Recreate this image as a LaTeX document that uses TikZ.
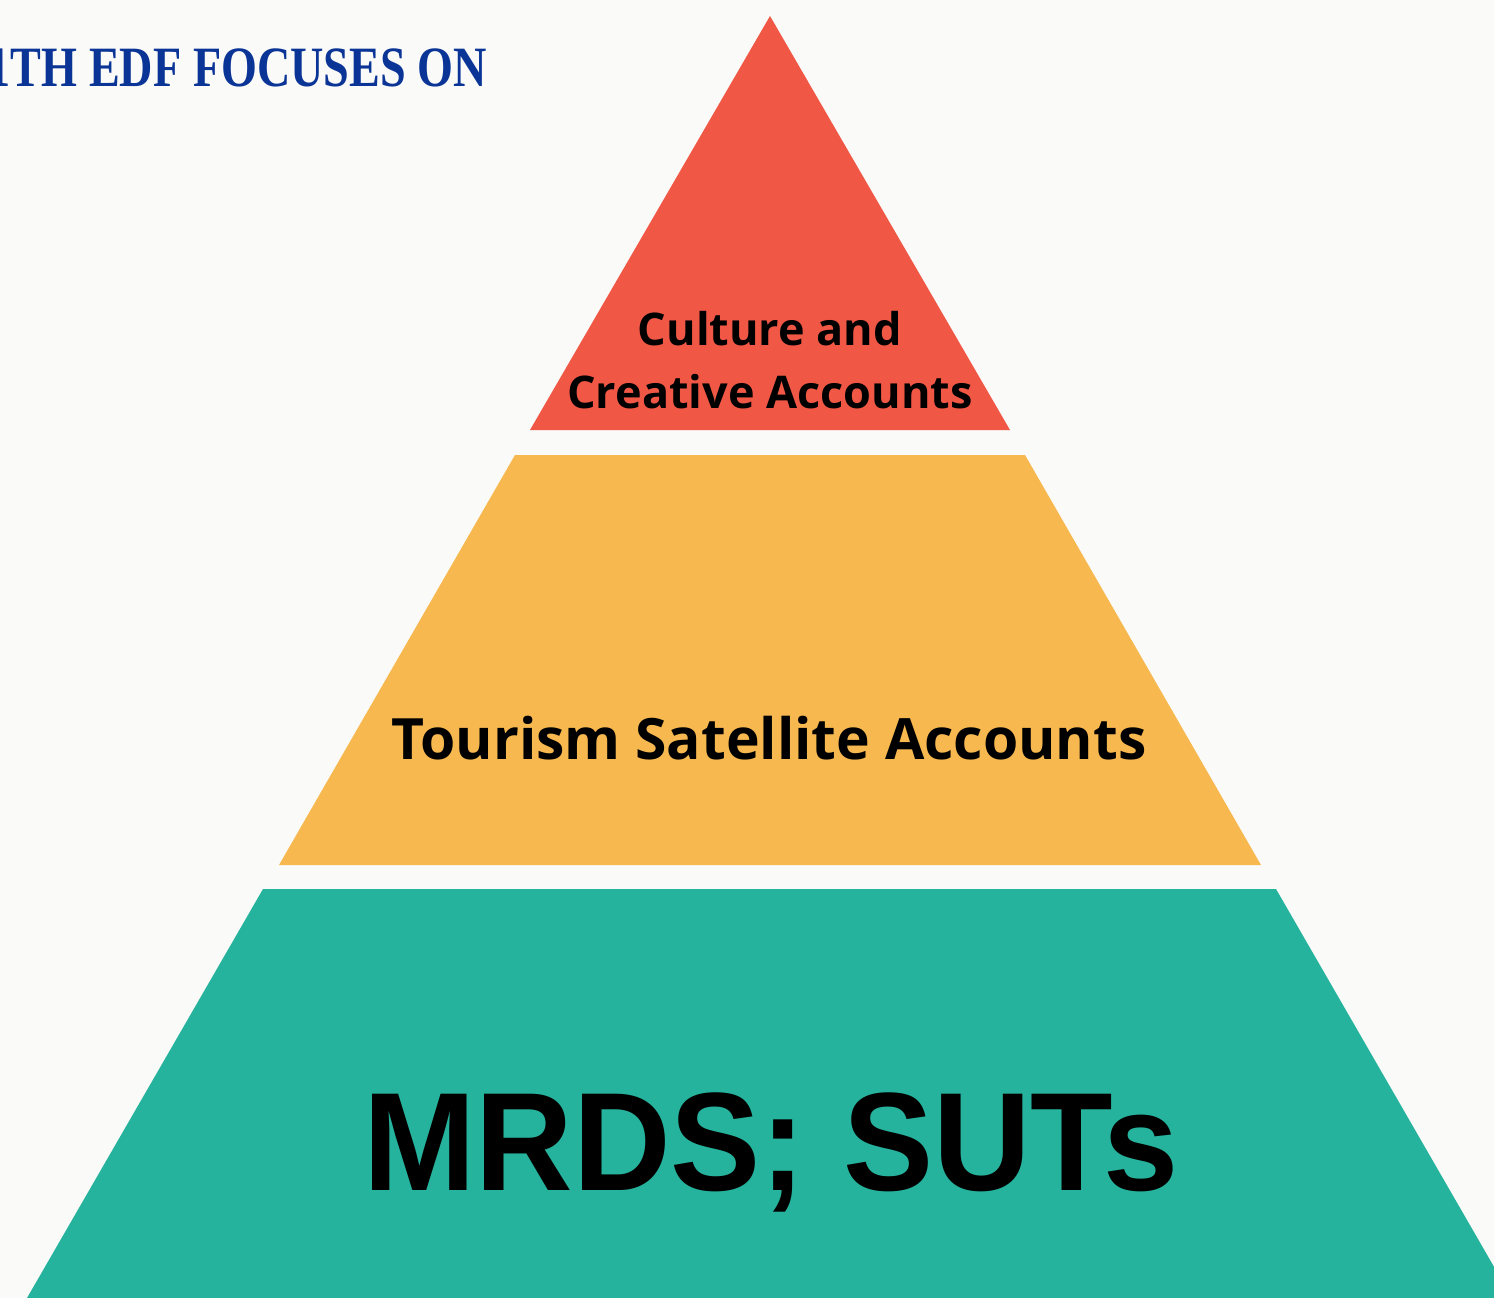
\documentclass[tikz,border=0pt]{standalone}
\usepackage{fontspec}
\setmainfont{Liberation Serif}
\newfontfamily\labfont{Open Sans}
\newfontfamily\bigfont{Liberation Sans}
\definecolor{bgc}{HTML}{FAFAF8}
\definecolor{redc}{HTML}{F05745}
\definecolor{orangec}{HTML}{F7B84F}
\definecolor{tealc}{HTML}{26B39E}
\definecolor{titlec}{HTML}{0A3597}
\tikzset{
  layer/.style={draw=none},
  lab/.style={inner sep=0pt, text=black, align=center},
}
\begin{document}
\begin{tikzpicture}[x=1pt,y=-1pt]
\useasboundingbox (0,0) rectangle (1494,1298);
\clip (0,0) rectangle (1494,1298);
\fill[bgc] (0,0) rectangle (1494,1298);
% layers
\fill[redc, layer] (770,16) -- (1010,430) -- (530,430) -- cycle;
\fill[orangec, layer] (515,455) -- (1025,455) -- (1261,865) -- (279,865) -- cycle;
\fill[tealc, layer] (263,889) -- (1276,889) -- (1512,1298) -- (27,1298) -- cycle;
% labels
\node[lab, anchor=base, font=\labfont\bfseries\fontsize{45}{63}\selectfont] (top) at (770,408) {Culture and\\Creative Accounts};
\node[lab, anchor=base, font=\labfont\bfseries\fontsize{57}{57}\selectfont] (mid) at (769,759) {Tourism Satellite Accounts};
\node[lab, anchor=base, font=\bigfont\bfseries\fontsize{140}{140}\selectfont] (bot) at (771,1190) {\scalebox{0.965}[1]{MRDS; SUTs}};
% title
\node[inner sep=0pt, anchor=base east, text=titlec] (title) at (487,86) {\scalebox{0.81}[1]{\fontsize{57}{57}\selectfont\bfseries 1TH EDF FOCUSES ON}};
\end{tikzpicture}
\end{document}
